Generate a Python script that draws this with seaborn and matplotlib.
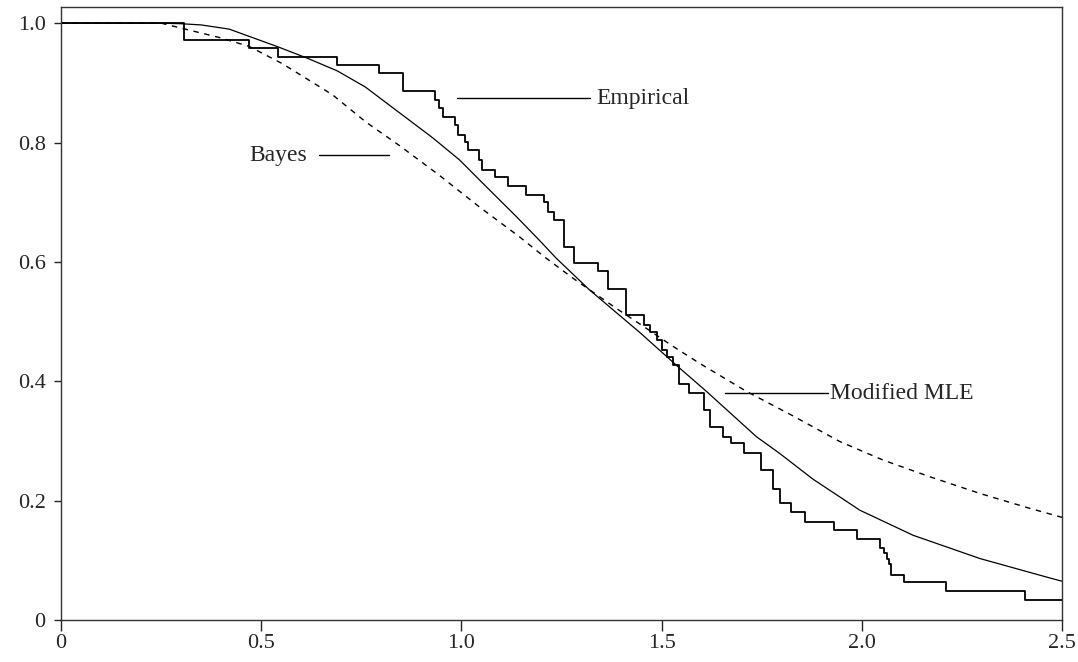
import numpy as np
import pandas as pd
import matplotlib
matplotlib.use("Agg")
import matplotlib.pyplot as plt
import seaborn as sns

# empirical survival (step function, value holds until next x)
emp_x = [0, 0.306, 0.47, 0.543, 0.69, 0.793, 0.853, 0.933, 0.945, 0.953, 0.983, 0.991, 1.008, 1.016,
         1.043, 1.052, 1.085, 1.116, 1.162, 1.207, 1.216, 1.232, 1.257, 1.282, 1.341, 1.366, 1.41, 1.455,
         1.47, 1.488, 1.502, 1.513, 1.528, 1.543, 1.568, 1.605, 1.62, 1.653, 1.672, 1.705, 1.747, 1.778,
         1.795, 1.824, 1.858, 1.931, 1.989, 2.045, 2.055, 2.062, 2.068, 2.074, 2.106, 2.21, 2.408, 2.5]
emp_y = [1.0, 0.972, 0.958, 0.943, 0.930, 0.916, 0.887, 0.872, 0.857, 0.843, 0.829, 0.812, 0.801, 0.787,
         0.771, 0.754, 0.742, 0.727, 0.712, 0.701, 0.684, 0.670, 0.625, 0.598, 0.584, 0.554, 0.511, 0.494,
         0.483, 0.469, 0.453, 0.440, 0.427, 0.396, 0.381, 0.352, 0.324, 0.307, 0.296, 0.280, 0.251, 0.220,
         0.196, 0.181, 0.165, 0.151, 0.135, 0.120, 0.112, 0.103, 0.094, 0.075, 0.064, 0.049, 0.034, 0.034]

# modified MLE curve
mle_x = [0, 0.25, 0.30, 0.35, 0.42, 0.543, 0.616, 0.69, 0.76, 0.845, 0.928, 0.995, 1.053, 1.137,
         1.195, 1.237, 1.32, 1.445, 1.545, 1.612, 1.737, 1.795, 1.878, 1.995, 2.128, 2.295, 2.472, 2.5]
mle_y = [1.0, 1.0, 0.999, 0.997, 0.990, 0.960, 0.941, 0.920, 0.893, 0.850, 0.808, 0.771, 0.732, 0.676,
         0.636, 0.606, 0.553, 0.482, 0.422, 0.383, 0.307, 0.279, 0.236, 0.184, 0.142, 0.103, 0.070, 0.065]

# Bayes curve
bayes_x = [0, 0.25, 0.31, 0.395, 0.47, 0.553, 0.678, 0.762, 0.845, 0.945, 1.045, 1.145, 1.21, 1.28,
           1.387, 1.45, 1.525, 1.595, 1.712, 1.828, 1.945, 2.053, 2.17, 2.295, 2.42, 2.5]
bayes_y = [1.0, 1.0, 0.99, 0.976, 0.961, 0.932, 0.880, 0.834, 0.795, 0.745, 0.692, 0.642, 0.607, 0.572,
           0.522, 0.494, 0.460, 0.430, 0.383, 0.342, 0.299, 0.268, 0.240, 0.212, 0.187, 0.172]

xticks = [0, 0.5, 1.0, 1.5, 2.0, 2.5]
xtick_labels = ["0", "0.5", "1.0", "1.5", "2.0", "2.5"]
yticks = [0, 0.2, 0.4, 0.6, 0.8, 1.0]
ytick_labels = ["0", "0.2", "0.4", "0.6", "0.8", "1.0"]

sns.set_style("white")
plt.rcParams['font.family'] = ['Liberation Serif', 'DejaVu Serif']

emp = pd.DataFrame({'x': emp_x, 'y': emp_y})
mle = pd.DataFrame({'x': mle_x, 'y': mle_y})
bay = pd.DataFrame({'x': bayes_x, 'y': bayes_y})

fig = plt.figure(figsize=(10.78, 6.62), dpi=100)
ax = fig.add_axes([0.0566, 0.0634, 0.9286, 0.926])

sns.lineplot(data=emp, x='x', y='y', ax=ax, color='black', lw=1.3, drawstyle='steps-post', sort=False)
sns.lineplot(data=mle, x='x', y='y', ax=ax, color='black', lw=0.9, sort=False)
sns.lineplot(data=bay, x='x', y='y', ax=ax, color='black', lw=1.0, sort=False, dashes=False,
             linestyle=(0, (4, 4)))

# labels with leader lines
ax.plot([0.99, 1.32], [0.874, 0.874], color='black', lw=1.0)
ax.text(1.337, 0.874, "Empirical", fontsize=17, va='center', ha='left')
ax.plot([0.645, 0.82], [0.779, 0.779], color='black', lw=1.0)
ax.text(0.47, 0.779, "Bayes", fontsize=17, va='center', ha='left')
ax.plot([1.658, 1.915], [0.380, 0.380], color='black', lw=1.0)
ax.text(1.92, 0.380, "Modified MLE", fontsize=17, va='center', ha='left')

ax.set_xlim(0, 2.5)
ax.set_ylim(0, 1.027)
ax.set_xticks(xticks)
ax.set_xticklabels(xtick_labels)
ax.set_yticks(yticks)
ax.set_yticklabels(ytick_labels)
ax.set_xlabel("")
ax.set_ylabel("")
ax.tick_params(axis='x', direction='out', length=8, width=1, pad=2, labelsize=16, bottom=True)
ax.tick_params(axis='y', direction='out', length=5, width=1, pad=6, labelsize=16, left=True)
for s in ax.spines.values():
    s.set_color('#333333')
    s.set_linewidth(1.0)

fig.savefig("out.png", dpi=100)
